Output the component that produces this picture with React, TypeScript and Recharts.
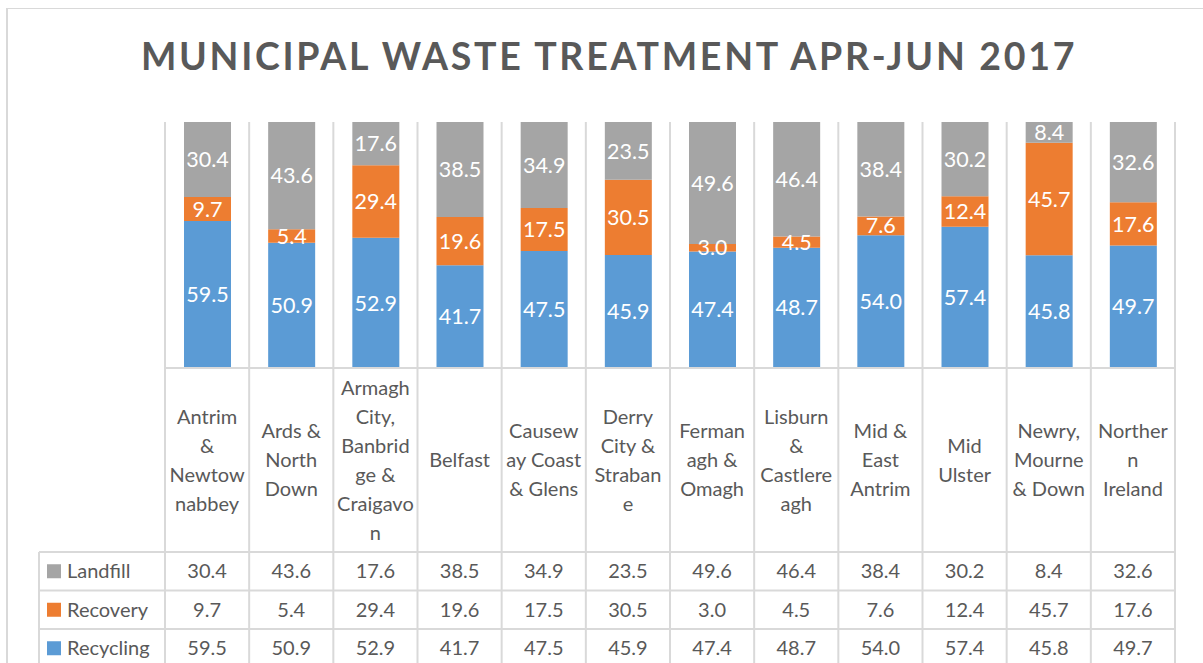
import React from 'react';
import { BarChart, Bar, XAxis, YAxis, CartesianGrid, LabelList } from 'recharts';

// councils, with the wrapped lines Excel shows in the table header
const councils = [
  'Antrim & Newtownabbey',
  'Ards & North Down',
  'Armagh City, Banbridge & Craigavon',
  'Belfast',
  'Causeway Coast & Glens',
  'Derry City & Strabane',
  'Fermanagh & Omagh',
  'Lisburn & Castlereagh',
  'Mid & East Antrim',
  'Mid Ulster',
  'Newry, Mourne & Down',
  'Northern Ireland',
];
const councilLines = [
  ['Antrim', '&', 'Newtow', 'nabbey'],
  ['Ards &', 'North', 'Down'],
  ['Armagh', 'City,', 'Banbrid', 'ge &', 'Craigavo', 'n'],
  ['Belfast'],
  ['Causew', 'ay Coast', '& Glens'],
  ['Derry', 'City &', 'Straban', 'e'],
  ['Ferman', 'agh &', 'Omagh'],
  ['Lisburn', '&', 'Castlere', 'agh'],
  ['Mid &', 'East', 'Antrim'],
  ['Mid', 'Ulster'],
  ['Newry,', 'Mourne', '& Down'],
  ['Norther', 'n', 'Ireland'],
];

const landfill = [30.4, 43.6, 17.6, 38.5, 34.9, 23.5, 49.6, 46.4, 38.4, 30.2, 8.4, 32.6];
const recovery = [9.7, 5.4, 29.4, 19.6, 17.5, 30.5, 3.0, 4.5, 7.6, 12.4, 45.7, 17.6];
const recycling = [59.5, 50.9, 52.9, 41.7, 47.5, 45.9, 47.4, 48.7, 54.0, 57.4, 45.8, 49.7];

// table rows top to bottom
const rows = [
  { key: 'landfill', name: 'Landfill', color: '#A5A5A5', values: landfill },
  { key: 'recovery', name: 'Recovery', color: '#ED7D31', values: recovery },
  { key: 'recycling', name: 'Recycling', color: '#5B9BD5', values: recycling },
];

const data = councils.map((c, i) => ({
  council: c,
  landfill: landfill[i],
  recovery: recovery[i],
  recycling: recycling[i],
}));

const GRID = '#D9D9D9';
const TEXT = '#595959';
const HEADER_H = 184;
const ROW_H = 38.5;
const LINE_H = 29;
const ROW_HEAD_W = 126;

const fmt = (v: any) => Number(v).toFixed(1);

const TableTick = (props: any) => {
  const { x, y, payload, index, width, visibleTicksCount } = props;
  const band = payload && payload.offset ? payload.offset * 2 : width / visibleTicksCount;
  const left = x - band / 2;
  const right = x + band / 2;
  const bottom = y + HEADER_H + ROW_H * rows.length + 20;
  const lines = councilLines[index] || [];
  const firstY = y + HEADER_H / 2 - ((lines.length - 1) * LINE_H) / 2;
  const last = index === visibleTicksCount - 1;

  return (
    <g>
      <line x1={left} y1={y} x2={left} y2={bottom} stroke={GRID} strokeWidth={2} />
      {last && <line x1={right} y1={y} x2={right} y2={bottom} stroke={GRID} strokeWidth={2} />}
      {lines.map((ln, k) => (
        <text key={k} x={x} y={firstY + k * LINE_H} dy="0.36em" textAnchor="middle" fill={TEXT} fontSize={20}>
          {ln}
        </text>
      ))}
      {rows.map((r, k) => {
        const top = y + HEADER_H + k * ROW_H;
        return (
          <g key={r.key}>
            <line x1={left} y1={top} x2={right} y2={top} stroke={GRID} strokeWidth={2} />
            <text x={x} y={top + ROW_H / 2} dy="0.36em" textAnchor="middle" fill={TEXT} fontSize={20}>
              {fmt(r.values[index])}
            </text>
          </g>
        );
      })}
      {index === 0 && (
        <g>
          <line x1={left - ROW_HEAD_W} y1={y + HEADER_H} x2={left - ROW_HEAD_W} y2={bottom} stroke={GRID} strokeWidth={2} />
          {rows.map((r, k) => {
            const top = y + HEADER_H + k * ROW_H;
            return (
              <g key={r.key}>
                <line x1={left - ROW_HEAD_W} y1={top} x2={left} y2={top} stroke={GRID} strokeWidth={2} />
                <rect x={left - ROW_HEAD_W + 8} y={top + ROW_H / 2 - 7} width={14} height={14} fill={r.color} />
                <text x={left - ROW_HEAD_W + 28} y={top + ROW_H / 2} dy="0.36em" fill={TEXT} fontSize={20}>
                  {r.name}
                </text>
              </g>
            );
          })}
        </g>
      )}
    </g>
  );
};

const boundaries = ({ offset }: any) =>
  councils.map((_, i) => offset.left + (i * offset.width) / councils.length).concat(offset.left + offset.width);

export default function App() {
  return (
    <div style={{ position: 'absolute', left: 0, top: 0, width: 1203, height: 663, overflow: 'hidden', background: '#fff', fontFamily: 'Lato, sans-serif' }}>
      <div style={{ position: 'absolute', left: 6, top: 8, width: 1300, height: 800, border: `1px solid ${GRID}`, borderLeftWidth: 2 }} />
      <svg style={{ position: 'absolute', left: 0, top: 0 }} width={1203} height={100}>
        <text x={609} y={70} textAnchor="middle" fill={TEXT} fontSize={37.5} fontWeight={700} letterSpacing={2.7} fontFamily="Lato, sans-serif">
          MUNICIPAL WASTE TREATMENT APR-JUN 2017
        </text>
      </svg>
      <div style={{ position: 'absolute', left: 0, top: 0 }}>
        <BarChart
          width={1203}
          height={663}
          data={data}
          stackOffset="expand"
          margin={{ top: 122, left: 165, right: 28, bottom: 0 }}
          style={{ fontFamily: 'Lato, sans-serif' }}
        >
          <CartesianGrid horizontal={false} stroke={GRID} strokeWidth={2} verticalCoordinatesGenerator={boundaries} />
          <XAxis
            dataKey="council"
            height={295}
            interval={0}
            tickLine={false}
            tickSize={0}
            tickMargin={0}
            axisLine={{ stroke: GRID, strokeWidth: 2 }}
            tick={<TableTick />}
          />
          <YAxis hide domain={[0, 1]} />
          <Bar dataKey="recycling" stackId="a" fill="#5B9BD5" barSize={47} isAnimationActive={false}>
            <LabelList dataKey="recycling" position="center" fill="#fff" fontSize={21.5} formatter={fmt} />
          </Bar>
          <Bar dataKey="recovery" stackId="a" fill="#ED7D31" barSize={47} isAnimationActive={false}>
            <LabelList dataKey="recovery" position="center" fill="#fff" fontSize={21.5} formatter={fmt} />
          </Bar>
          <Bar dataKey="landfill" stackId="a" fill="#A5A5A5" barSize={47} isAnimationActive={false}>
            <LabelList dataKey="landfill" position="center" fill="#fff" fontSize={21.5} formatter={fmt} />
          </Bar>
        </BarChart>
      </div>
    </div>
  );
}
